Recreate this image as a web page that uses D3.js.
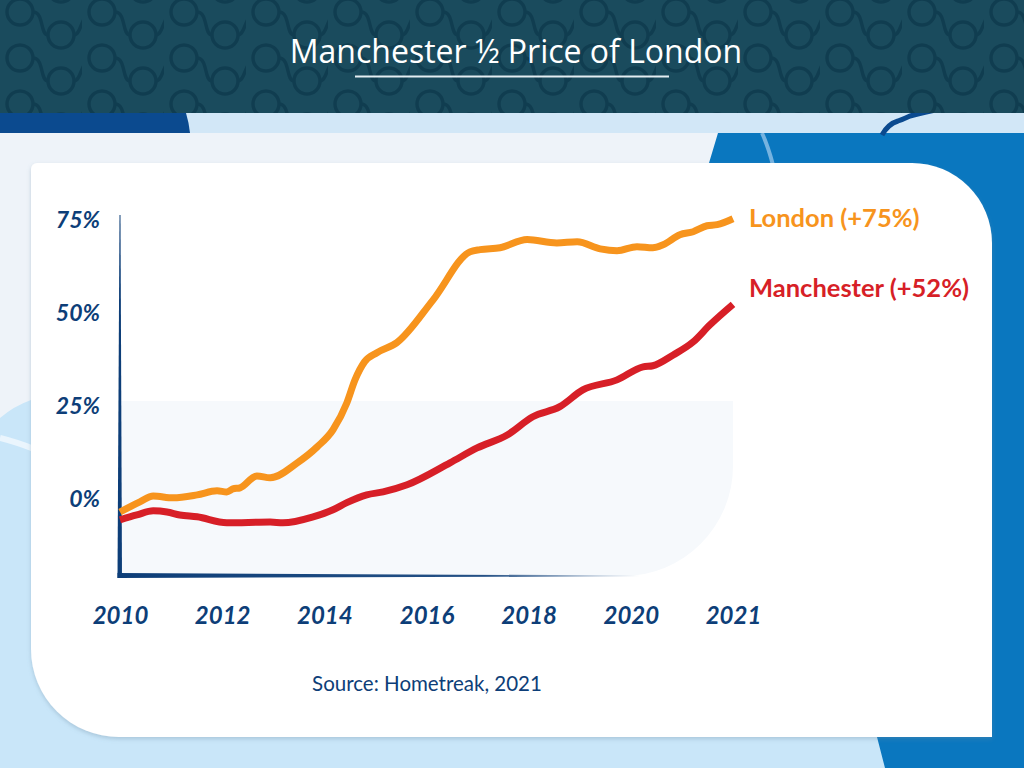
<!DOCTYPE html>
<html>
<head>
<meta charset="utf-8">
<script src="https://cdn.jsdelivr.net/npm/d3@7"></script>
<style>
  html, body { margin: 0; padding: 0; background: #c9e6f9; }
  svg { display: block; }
</style>
</head>
<body>
<svg id="chart" width="1024" height="768"></svg>
<script>
// ---- data ----
const chartTitle = "Manchester ½ Price of London";
const sourceNote = "Source: Hometreak, 2021";

// [decimal year, % change since 2010]
const londonSeries = [
  [2010.00, -3.8], [2010.39, -1.1], [2010.65, 0.5], [2011.04, 0.0], [2011.51, 0.8],
  [2011.90, 1.9], [2012.09, 1.6], [2012.21, 2.4], [2012.35, 2.7], [2012.68, 5.9],
  [2012.94, 5.4], [2013.47, 9.4], [2013.86, 13.7], [2014.17, 18.3], [2014.44, 25.5],
  [2014.60, 31.7], [2014.79, 36.6], [2015.03, 39.0], [2015.42, 41.7], [2016.13, 53.2],
  [2016.85, 66.1], [2017.05, 66.7], [2017.44, 67.2], [2017.97, 69.4], [2018.55, 68.5],
  [2018.95, 68.8], [2019.40, 66.9], [2019.73, 66.4], [2020.12, 67.5], [2020.43, 67.2],
  [2020.63, 68.0], [2020.96, 70.7], [2021.22, 71.5], [2021.49, 73.1], [2021.69, 73.4],
  [2022.00, 75.0]
];
const manchesterSeries = [
  [2010.00, -5.9], [2010.33, -4.6], [2010.65, -3.5], [2010.92, -3.8], [2011.17, -4.6],
  [2011.51, -5.1], [2012.09, -6.7], [2012.94, -6.5], [2013.19, -6.7], [2013.78, -5.1],
  [2014.17, -3.2], [2014.44, -1.3], [2014.83, 0.8], [2015.15, 1.6], [2015.62, 3.5],
  [2016.46, 9.4], [2016.99, 13.4], [2017.58, 16.9], [2018.08, 21.8], [2018.61, 24.5],
  [2019.06, 29.0], [2019.73, 31.7], [2020.24, 35.2], [2020.43, 35.5], [2020.83, 38.4],
  [2021.22, 41.9], [2021.55, 46.5], [2022.00, 52.0]
];

const seriesNames = ["London", "Manchester"];
const seriesLabels = ["London (+75%)", "Manchester (+52%)"];
const seriesColors = ["#f7941d", "#d71f27"];

const yTickValues = [0, 25, 50, 75];
const xTickValues = [2010, 2012, 2014, 2016, 2018, 2020, 2022];
const xTickLabels = ["2010", "2012", "2014", "2016", "2018", "2020", "2021"];

// ---- layout ----
const svg = d3.select("#chart");
const navy = "#0d3e78";

const x = d3.scaleLinear().domain([2010, 2022]).range([120, 733]);
const y = d3.scaleLinear().domain([-21, 76]).range([576, 215]);

const defs = svg.append("defs");

// header pattern: rings joined by soft curves
const pat = defs.append("pattern")
  .attr("id", "rings")
  .attr("patternUnits", "userSpaceOnUse")
  .attr("width", 82).attr("height", 46);
pat.append("rect").attr("width", 82).attr("height", 46).attr("fill", "#1a4b5d");
const ringStroke = "#103d50";
[[20, 12], [61, 35], [61, -11], [-21, 35], [103, 35], [20, 58]].forEach(([cx, cy]) => {
  pat.append("circle")
    .attr("cx", cx).attr("cy", cy).attr("r", 13)
    .attr("fill", "none").attr("stroke", ringStroke).attr("stroke-width", 3.5);
});
pat.append("path")
  .attr("d", "M33,12 C44,12 40,35 48,35 M74,35 C82,35 80,12 95,12")
  .attr("fill", "none").attr("stroke", ringStroke).attr("stroke-width", 3.5);

const shadow = defs.append("filter").attr("id", "shadow")
  .attr("x", "-5%").attr("y", "-5%").attr("width", "110%").attr("height", "115%");
shadow.append("feDropShadow")
  .attr("dx", 0).attr("dy", 2).attr("stdDeviation", 2)
  .attr("flood-color", "#6c8aa3").attr("flood-opacity", 0.35);

const fadeX = defs.append("linearGradient").attr("id", "fadeX")
  .attr("gradientUnits", "userSpaceOnUse")
  .attr("x1", 120).attr("x2", 640).attr("y1", 0).attr("y2", 0);
fadeX.append("stop").attr("offset", "0%").attr("stop-color", navy).attr("stop-opacity", 1);
fadeX.append("stop").attr("offset", "70%").attr("stop-color", navy).attr("stop-opacity", 0.9);
fadeX.append("stop").attr("offset", "100%").attr("stop-color", navy).attr("stop-opacity", 0);

// ---- background ----
const bg = svg.append("g");
bg.append("rect").attr("width", 1024).attr("height", 768).attr("fill", "#c9e6f9");

// pale grey area behind the card (left side)
bg.append("path")
  .attr("d", "M0,133 L718,133 L700,400 L31,400 Q14,406 0,418 Z")
  .attr("fill", "#eef3f9");
// white arc on left edge
bg.append("path")
  .attr("d", "M0,438 Q16,442 34,449")
  .attr("fill", "none").attr("stroke", "#eaf5fd").attr("stroke-width", 6);

// bright blue block on the right
bg.append("path")
  .attr("d", "M718,133 L1024,133 L1024,768 L885,768 L877,737 L709,163 Z")
  .attr("fill", "#0a77bf");
bg.append("path")
  .attr("d", "M762,133 Q768,146 773,165")
  .attr("fill", "none").attr("stroke", "#76b3e0").attr("stroke-width", 4);

// strip under the header
bg.append("rect").attr("x", 0).attr("y", 113).attr("width", 1024).attr("height", 20)
  .attr("fill", "#d2e7f7");
bg.append("path")
  .attr("d", "M0,113 L186,113 Q189,123 190,133 L0,133 Z")
  .attr("fill", "#0b4a8f");
bg.append("path")
  .attr("d", "M882,135 Q888,124 898,121 Q906,118 910,116 Q925,112 945,108")
  .attr("fill", "none").attr("stroke", "#0b4a8f").attr("stroke-width", 5);

// header
bg.append("rect").attr("width", 1024).attr("height", 113).attr("fill", "url(#rings)");
bg.append("text")
  .attr("x", 516).attr("y", 63)
  .attr("text-anchor", "middle")
  .attr("font-family", "'Open Sans', sans-serif")
  .attr("font-size", 32)
  .attr("fill", "#ffffff")
  .text(chartTitle);
bg.append("line")
  .attr("x1", 355).attr("x2", 669).attr("y1", 76.5).attr("y2", 76.5)
  .attr("stroke", "#e3edf2").attr("stroke-width", 2);

// white card: small top-left, big top-right and bottom-left corners
const cx0 = 31, cy0 = 163, cx1 = 992, cy1 = 737;
const rTL = 6, rTR = 80, rBL = 88;
svg.append("path")
  .attr("d", `M${cx0 + rTL},${cy0} L${cx1 - rTR},${cy0} A${rTR},${rTR} 0 0 1 ${cx1},${cy0 + rTR}
    L${cx1},${cy1} L${cx0 + rBL},${cy1} A${rBL},${rBL} 0 0 1 ${cx0},${cy1 - rBL}
    L${cx0},${cy0 + rTL} A${rTL},${rTL} 0 0 1 ${cx0 + rTL},${cy0} Z`)
  .attr("fill", "#ffffff")
  .attr("filter", "url(#shadow)");

// faint panel in the lower plot area
const px0 = x(2010), px1 = x(2022), py0 = y(26), py1 = y(-21), pr = 110;
svg.append("path")
  .attr("d", `M${px0},${py0} L${px1},${py0} L${px1},${py1 - pr}
    A${pr},${pr} 0 0 1 ${px1 - pr},${py1} L${px0},${py1} Z`)
  .attr("fill", "#f6f9fc");

// ---- axes ----
const plot = svg.append("g");

// tapered vertical axis
const [yTop, yBot] = [y(76), y(-21)];
plot.append("path")
  .attr("d", `M${x(2010) - 0.5},${yTop} L${x(2010) + 0.5},${yTop} L${x(2010) + 2},${yBot + 2} L${x(2010) - 2.5},${yBot + 2} Z`)
  .attr("fill", navy);
// tapered, fading horizontal axis
plot.append("path")
  .attr("d", `M${x(2010) - 2.5},${yBot - 3} L640,${yBot - 0.5} L640,${yBot + 0.5} L${x(2010) - 2.5},${yBot + 2} Z`)
  .attr("fill", "url(#fadeX)");

const yAxis = d3.axisLeft(y)
  .tickValues(yTickValues)
  .tickSize(0)
  .tickPadding(20)
  .tickFormat(d => d + "%");
plot.append("g")
  .attr("transform", `translate(${x(2010)},0)`)
  .call(yAxis)
  .call(g => g.select(".domain").remove())
  .selectAll("text")
  .attr("dy", "0.36em")
  .attr("font-family", "Lato, sans-serif")
  .attr("font-weight", 700)
  .attr("font-style", "italic")
  .attr("font-size", 23)
  .attr("fill", navy);

const xAxis = d3.axisBottom(x)
  .tickValues(xTickValues)
  .tickSize(0)
  .tickPadding(31)
  .tickFormat((d, i) => xTickLabels[i]);
plot.append("g")
  .attr("transform", `translate(0,${yBot})`)
  .call(xAxis)
  .call(g => g.select(".domain").remove())
  .selectAll("text")
  .attr("font-family", "Lato, sans-serif")
  .attr("font-weight", 700)
  .attr("font-style", "italic")
  .attr("font-size", 24)
  .attr("fill", navy);

// ---- lines ----
const line = d3.line()
  .x(d => x(d[0]))
  .y(d => y(d[1]))
  .curve(d3.curveMonotoneX);

const allSeries = [londonSeries, manchesterSeries];
plot.append("g")
  .selectAll("path")
  .data(allSeries)
  .join("path")
  .attr("d", line)
  .attr("fill", "none")
  .attr("stroke", (d, i) => seriesColors[i])
  .attr("stroke-width", 7)
  .attr("stroke-linejoin", "round")
  .attr("stroke-linecap", "butt");

// end labels
const labelY = [227, 297];
plot.append("g")
  .selectAll("text")
  .data(seriesNames)
  .join("text")
  .attr("x", 749)
  .attr("y", (d, i) => labelY[i])
  .attr("font-family", "Lato, sans-serif")
  .attr("font-weight", 700)
  .attr("font-size", 25.5)
  .attr("fill", (d, i) => seriesColors[i])
  .text((d, i) => seriesLabels[i]);

// source
svg.append("text")
  .attr("x", 427).attr("y", 691)
  .attr("text-anchor", "middle")
  .attr("font-family", "Lato, sans-serif")
  .attr("font-size", 20.5)
  .attr("fill", navy)
  .text(sourceNote);
</script>
</body>
</html>
